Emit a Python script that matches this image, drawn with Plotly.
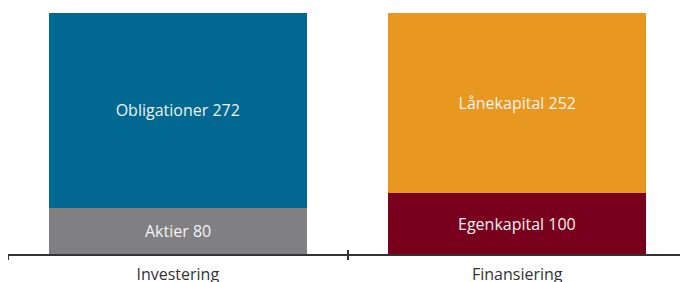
import plotly.graph_objects as go

categories = ["Investering", "Finansiering"]
bottom_names = ["Aktier", "Egenkapital"]
bottom_values = [80, 100]
top_names = ["Obligationer", "Lånekapital"]
top_values = [272, 252]
bottom_colors = ["#808083", "#79001c"]
top_colors = ["#006891", "#e8981e"]

Y0, Y1 = 15.3, 358.3
FONT = "Open Sans"
TXT = "#f2f2f2"

fig = go.Figure()
fig.add_trace(go.Bar(
    x=categories, y=bottom_values,
    marker=dict(color=bottom_colors, line=dict(width=0)),
    textposition="none",
    hoverinfo="skip",
))
fig.add_trace(go.Bar(
    x=categories, y=top_values,
    marker=dict(color=top_colors, line=dict(width=0)),
    text=[f"{n} {v}" for n, v in zip(top_names, top_values)],
    textposition="inside", insidetextanchor="middle",
    textfont=dict(color=TXT, size=16, family=FONT),
    hoverinfo="skip",
))
# labels of the bottom segments, centred in their visible part
for c, n, v in zip(categories, bottom_names, bottom_values):
    fig.add_annotation(x=c, y=(Y0 + v) / 2, text=f"{n} {v}", showarrow=False,
                       font=dict(color=TXT, size=16, family=FONT))

# invisible trace to host overlay axis ticks (pointing up)
fig.add_trace(go.Scatter(x=categories, y=[None, None], xaxis="x2", yaxis="y",
                         showlegend=False, hoverinfo="skip"))

fig.update_layout(
    barmode="stack",
    bargap=0.24,
    width=680, height=274,
    margin=dict(l=0, r=1, t=0, b=28, autoexpand=False),
    paper_bgcolor="white", plot_bgcolor="white",
    showlegend=False,
    xaxis=dict(
        type="category", range=[-0.5, 1.5],
        showline=True, linecolor="#333333", linewidth=1.5,
        ticks="outside", tickson="boundaries", ticklen=4, tickwidth=1.5, tickcolor="#333333",
        tickfont=dict(family=FONT, size=16, color="#333333"),
        ticklabelstandoff=5,
        showgrid=False, zeroline=False, automargin=False,
    ),
    xaxis2=dict(
        type="category", range=[-0.5, 1.5], overlaying="x", anchor="y", side="bottom",
        showline=False, ticks="inside", tickson="boundaries", ticklen=4, tickwidth=1.5,
        tickcolor="#333333", showticklabels=False, showgrid=False, zeroline=False,
    ),
    yaxis=dict(range=[Y0, Y1], visible=False, showgrid=False, zeroline=False),
)

fig.write_html("out.html")
